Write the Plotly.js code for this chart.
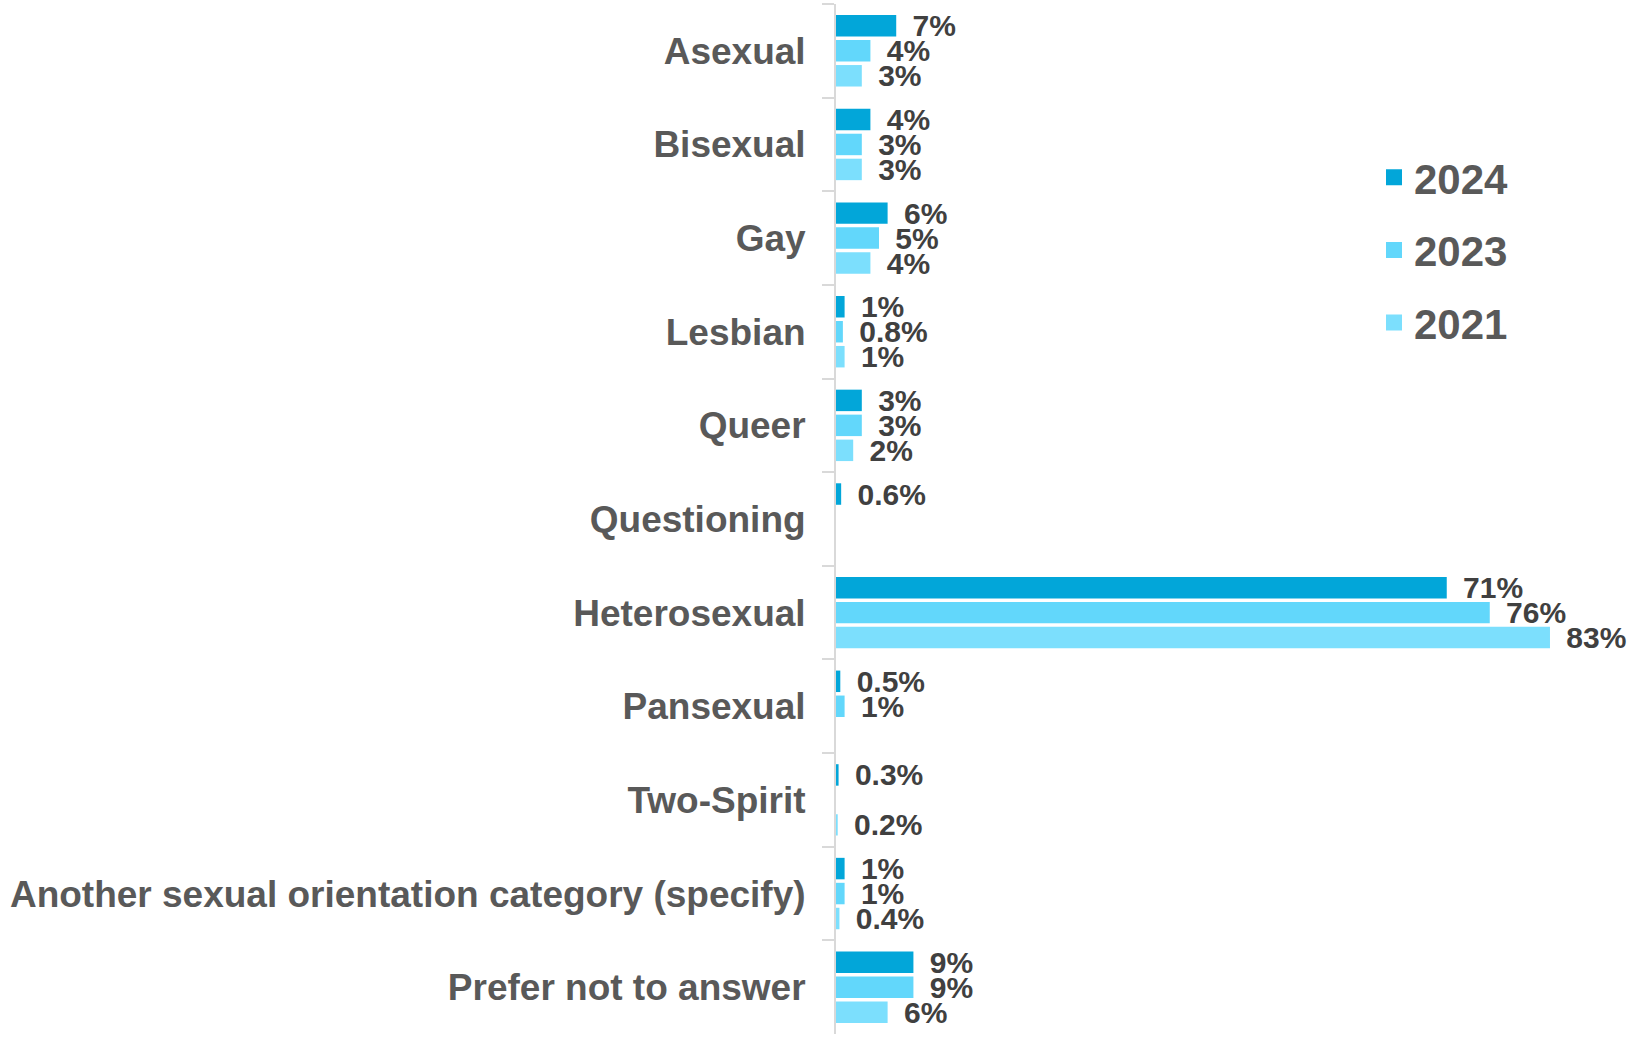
<!DOCTYPE html>
<html>
<head>
<meta charset="utf-8">
<script src="https://cdn.plot.ly/plotly-3.0.1.min.js"></script>
<style>html,body{margin:0;padding:0;background:#fff;}#chart{width:1640px;height:1038px;}</style>
</head>
<body>
<div id="chart"></div>
<script>
const categories = ["Asexual","Bisexual","Gay","Lesbian","Queer","Questioning","Heterosexual","Pansexual","Two-Spirit","Another sexual orientation category (specify)","Prefer not to answer"];
const values2024 = [7, 4, 6, 1, 3, 0.6, 71, 0.5, 0.3, 1, 9];
const values2023 = [4, 3, 5, 0.8, 3, null, 76, 1, null, 1, 9];
const values2021 = [3, 3, 4, 1, 2, null, 83, null, 0.2, 0.4, 6];
const seriesNames = ["2024", "2023", "2021"];
const seriesColors = ["#02A6D9", "#62D7FB", "#7CDFFD"];

const seriesValues = [values2024, values2023, values2021];
const pad = "\u00a0\u2006";
const font = "Liberation Sans, Arial, sans-serif";
const traces = seriesValues.map((vals, i) => ({
  type: "bar",
  orientation: "h",
  name: seriesNames[i],
  showlegend: false,
  y: categories,
  x: vals,
  marker: {color: seriesColors[i]},
  text: vals.map(v => v === null ? "" : pad + v + "%"),
  textposition: "outside",
  constraintext: "none",
  cliponaxis: false,
  textfont: {family: font, size: 30, color: "#404040", weight: "bold"},
  hoverinfo: "skip"
}));
// legend entries (larger square swatches)
seriesNames.forEach((n, i) => {
  traces.push({
    type: "scatter",
    mode: "markers",
    name: n,
    legendgroup: n,
    x: [null],
    y: [null],
    marker: {symbol: "square", size: 16, color: seriesColors[i]},
    showlegend: true,
    hoverinfo: "skip"
  });
});

const layout = {
  width: 1640,
  height: 1038,
  margin: {l: 836, r: 4, t: 4, b: 4},
  paper_bgcolor: "#ffffff",
  plot_bgcolor: "#ffffff",
  barmode: "group",
  bargap: 0.2,
  bargroupgap: 0.14,
  showlegend: true,
  legend: {
    x: 0.6725, xanchor: "left",
    y: 0.8645, yanchor: "top",
    font: {family: font, size: 42, color: "#595959", weight: "bold"},
    tracegroupgap: 15,
    traceorder: "grouped",
    itemsizing: "trace",
    bgcolor: "rgba(0,0,0,0)"
  },
  xaxis: {
    range: [0, 93],
    showgrid: false,
    zeroline: false,
    showline: false,
    showticklabels: false,
    ticks: ""
  },
  yaxis: {
    autorange: "reversed",
    showgrid: false,
    zeroline: false,
    showline: true,
    linecolor: "#d9d9d9",
    linewidth: 2,
    ticks: "outside",
    tickson: "boundaries",
    ticklen: 12,
    tickwidth: 2,
    tickcolor: "#d9d9d9",
    ticklabelstandoff: 21,
    tickfont: {family: font, size: 37, color: "#595959", weight: "bold"}
  }
};

Plotly.newPlot("chart", traces, layout, {displayModeBar: false, staticPlot: true});
</script>
</body>
</html>
